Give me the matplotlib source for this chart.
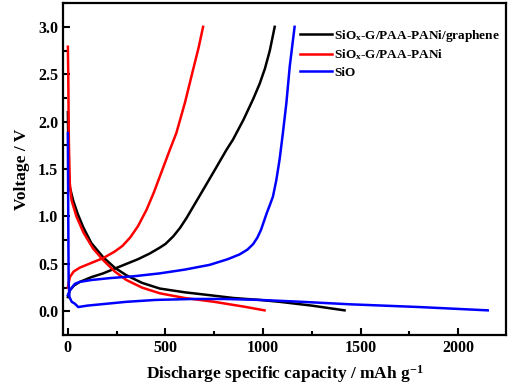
import matplotlib
matplotlib.use("Agg")
import matplotlib.pyplot as plt
from matplotlib.ticker import MultipleLocator

plt.rcParams['font.family'] = ['Liberation Serif', 'DejaVu Serif']
plt.rcParams['font.weight'] = 'bold'
plt.rcParams['mathtext.fontset'] = 'custom'
plt.rcParams['mathtext.rm'] = 'Liberation Serif:bold'
plt.rcParams['mathtext.it'] = 'Liberation Serif:bold'
plt.rcParams['mathtext.bf'] = 'Liberation Serif:bold'
plt.rcParams['mathtext.default'] = 'rm'

# SiOx-G/PAA-PANi/graphene (black)
blk_dis_x = [0, 2, 5, 10, 27, 50, 78, 120, 181, 240, 300, 380, 471, 600, 727, 850, 983, 1085, 1250, 1418]
blk_dis_y = [2.10, 1.80, 1.45, 1.31, 1.17, 1.03, 0.89, 0.72, 0.57, 0.46, 0.38, 0.30, 0.24, 0.20, 0.17, 0.14, 0.12, 0.10, 0.06, 0.01]
blk_chg_x = [0, 10, 30, 61, 120, 181, 240, 300, 360, 420, 470, 500, 540, 575, 607, 650, 693, 750, 812, 846, 900, 950, 983, 1010, 1035, 1060]
blk_chg_y = [0.15, 0.22, 0.27, 0.31, 0.36, 0.40, 0.45, 0.50, 0.55, 0.61, 0.67, 0.71, 0.79, 0.88, 0.98, 1.13, 1.28, 1.48, 1.70, 1.81, 2.02, 2.24, 2.40, 2.56, 2.75, 3.00]

# SiOx-G/PAA-PANi (red)
red_dis_x = [0, 2, 5, 10, 19, 44, 80, 130, 181, 240, 300, 380, 471, 600, 750, 900, 1008]
red_dis_y = [2.79, 2.50, 1.80, 1.35, 1.17, 1.00, 0.83, 0.66, 0.54, 0.42, 0.33, 0.25, 0.19, 0.14, 0.10, 0.05, 0.01]
red_chg_x = [0, 10, 30, 61, 120, 180, 240, 280, 320, 360, 403, 440, 471, 522, 556, 600, 642, 670, 693]
red_chg_y = [0.25, 0.36, 0.42, 0.46, 0.51, 0.56, 0.63, 0.69, 0.78, 0.90, 1.07, 1.25, 1.42, 1.70, 1.88, 2.20, 2.55, 2.78, 3.00]

# SiO (blue)
blu_dis_x = [0, 2, 4, 8, 20, 36, 53, 100, 200, 300, 450, 642, 800, 983, 1200, 1444, 1800, 2152]
blu_dis_y = [1.88, 1.00, 0.30, 0.15, 0.10, 0.08, 0.045, 0.06, 0.08, 0.10, 0.12, 0.13, 0.13, 0.12, 0.10, 0.074, 0.045, 0.01]
blu_chg_x = [0, 10, 36, 61, 120, 215, 340, 471, 600, 727, 820, 880, 920, 950, 972, 990, 1005, 1020, 1035, 1051, 1068, 1085, 1102, 1120, 1137, 1150, 1162]
blu_chg_y = [0.17, 0.22, 0.29, 0.31, 0.33, 0.35, 0.37, 0.40, 0.44, 0.49, 0.55, 0.60, 0.65, 0.71, 0.78, 0.86, 0.95, 1.04, 1.12, 1.21, 1.38, 1.60, 1.88, 2.20, 2.58, 2.80, 3.00]

labels = ['SiO$_x$-G/PAA-PANi/graphene', 'SiO$_x$-G/PAA-PANi', 'SiO']
colors = ['black', '#ff0000', '#0000ff']

fig = plt.figure(figsize=(5.1, 3.9), dpi=100)
ax = fig.add_axes([0.1235, 0.141, 0.8685, 0.851])

lw = 1.8
ax.plot(blk_dis_x, blk_dis_y, color=colors[0], lw=lw, label=labels[0])
ax.plot(blk_chg_x, blk_chg_y, color=colors[0], lw=lw)
ax.plot(red_dis_x, red_dis_y, color=colors[1], lw=lw, label=labels[1])
ax.plot(red_chg_x, red_chg_y, color=colors[1], lw=lw)
ax.plot(blu_dis_x, blu_dis_y, color=colors[2], lw=lw, label=labels[2])
ax.plot(blu_chg_x, blu_chg_y, color=colors[2], lw=lw)

ax.set_xlim(-25, 2245)
ax.set_ylim(-0.25, 3.25)
ax.xaxis.set_major_locator(MultipleLocator(500))
ax.xaxis.set_minor_locator(MultipleLocator(250))
ax.yaxis.set_major_locator(MultipleLocator(0.5))
ax.yaxis.set_minor_locator(MultipleLocator(0.25))
ax.tick_params(which='both', direction='in', width=1.5, labelsize=11.5)
ax.tick_params(which='major', length=5)
ax.tick_params(which='minor', length=3)
for s in ax.spines.values():
    s.set_linewidth(1.6)

ax.set_xlabel('Discharge specific capacity / mAh g$^{-1}$', fontsize=12.5, fontweight='bold', labelpad=5)
ax.set_ylabel('Voltage / V', fontsize=12.5, fontweight='bold', labelpad=6)

leg = ax.legend(loc='upper right', frameon=False, fontsize=9.5, handlelength=2.4,
                handletextpad=0.2, labelspacing=0.3, borderaxespad=0.2,
                bbox_to_anchor=(1.005, 0.95))

fig.savefig('out.png', dpi=100)
